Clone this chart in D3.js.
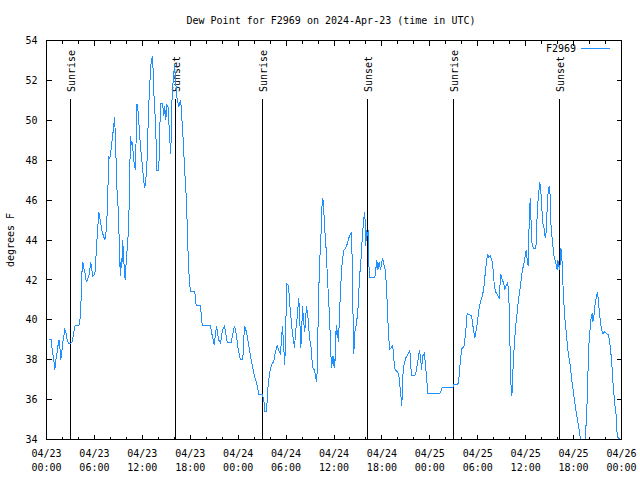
<!DOCTYPE html>
<html><head><meta charset="utf-8">
<script src="https://cdn.jsdelivr.net/npm/d3@7"></script>
<style>
body{margin:0;background:#fff}
svg text{font-family:"DejaVu Sans Mono","Liberation Mono",monospace;font-size:10px;fill:#000}
</style>
</head><body>
<svg id="c" width="640" height="480"></svg>
<script>
const chartTitle = "Dew Point for F2969 on 2024-Apr-23 (time in UTC)";
const seriesName = "F2969";
const yLabel = "degrees F";
const startUTC = Date.UTC(2024, 3, 23, 0, 0);
const spanHours = 72;
const yTicks = [34, 36, 38, 40, 42, 44, 46, 48, 50, 52, 54];
const sunrise = ["2024-04-23T03:03Z", "2024-04-24T03:02Z", "2024-04-25T03:01Z"];
const sunset  = ["2024-04-23T16:11Z", "2024-04-24T16:12Z", "2024-04-25T16:13Z"];

// [hours since 2024-04-23 00:00 UTC, dew point °F]
const day23 = [
[0.29,39.0],[0.59,39.0],[0.63,38.8],[0.75,38.4],[0.88,38.1],[1.04,37.5],[1.21,38.1],[1.34,38.4],[1.47,38.8],[1.59,39.0],
[1.75,38.3],[1.79,38.0],[1.97,38.6],[2.09,39.0],[2.22,39.3],[2.29,39.5],[2.42,39.4],[2.59,39.0],[2.75,38.8],[3.01,38.8],
[3.22,38.9],[3.34,39.2],[3.47,39.5],[3.59,39.7],[4.04,39.7],[4.17,39.9],[4.26,40.4],[4.35,41.2],[4.42,42.3],[4.55,42.9],
[4.67,42.6],[4.85,42.3],[4.97,41.9],[5.13,42.0],[5.35,42.3],[5.55,42.9],[5.67,42.5],[5.80,42.2],[6.05,42.3],[6.14,42.6],
[6.22,43.4],[6.35,44.2],[6.47,44.9],[6.55,45.4],[6.67,45.1],[6.80,44.8],[6.97,44.4],[7.14,44.2],[7.30,44.0],[7.39,44.2],
[7.51,44.6],[7.64,45.7],[7.73,47.2],[7.80,48.2],[7.89,48.1],[8.01,48.2],[8.14,48.75],[8.30,49.3],[8.43,49.7],[8.51,50.15],
[8.64,49.2],[8.77,47.0],[8.85,46.3],[8.93,45.9],[9.05,44.9],[9.14,43.1],[9.27,42.2],[9.35,43.1],[9.43,42.6],[9.55,44.0],
[9.64,43.1],[9.77,42.5],[9.85,42.0],[9.93,42.6],[10.02,43.1],[10.14,43.8],[10.27,44.5],[10.36,46.0],[10.43,47.5],[10.52,49.2],
[10.64,48.75],[10.77,48.9],[10.89,48.1],[11.02,47.7],[11.14,47.5],[11.31,50.8],[11.39,50.8],[11.52,50.2],[11.65,49.3],[11.77,48.75],
[11.90,48.1],[12.02,47.7],[12.15,47.0],[12.31,46.6],[12.43,47.0],[12.52,47.5],[12.61,48.1],[12.77,50.5],[12.90,51.5],[13.02,52.5],
[13.11,52.9],[13.24,53.2],[13.36,52.5],[13.49,50.9],[13.61,50.2],[13.74,48.8],[13.81,47.5],[14.06,47.5],[14.19,49.5],[14.27,50.85],
[14.53,50.85],[14.69,50.2],[14.81,50.7],[14.94,50.0],[15.06,50.8],[15.28,50.6],[15.36,49.5],[15.44,49.0],[15.56,48.3],[15.65,49.8],
[15.74,51.4],[15.94,52.3],[16.03,52.8],[16.19,51.85],[16.37,51.0],[16.57,50.7],[16.78,51.0],[16.87,50.7],[16.99,49.8],[17.12,49.0],
[17.24,48.0],[17.37,47.0],[17.53,46.0],[17.62,44.7],[17.74,43.2],[17.87,42.1],[18.03,41.4],[18.57,41.4],[18.75,40.7],[19.28,40.7],
[19.50,39.7],[20.54,39.7],[20.75,39.2],[21.00,38.75],[21.29,39.7],[21.54,39.0],[21.79,38.85],[22.04,39.5],[22.29,39.7],[22.63,38.85],
[23.13,38.85],[23.29,39.2],[23.54,39.7],[23.79,39.2]
];
const day24 = [
[24.00,38.5],[24.29,38.0],[24.58,38.0],[24.79,39.7],[25.04,39.4],[25.33,38.7],[25.67,37.9],[26.01,37.25],[26.38,36.7],[26.58,36.25],
[27.01,36.25],[27.21,36.0],[27.34,35.4],[27.55,35.4],[27.64,36.0],[27.76,36.75],[27.96,37.4],[28.17,37.75],[28.46,37.9],[28.67,38.4],
[28.89,38.7],[29.14,38.4],[29.30,38.3],[29.55,39.7],[29.71,38.6],[29.84,37.75],[29.93,39.2],[30.09,41.8],[30.30,41.7],[30.47,40.75],
[30.77,39.4],[31.05,38.6],[31.22,39.5],[31.39,40.1],[31.59,41.1],[31.72,40.0],[31.84,38.6],[31.93,39.2],[32.06,40.7],[32.18,40.0],
[32.34,39.4],[32.56,40.7],[32.77,40.0],[32.93,39.1],[33.18,38.5],[33.27,37.85],[33.40,37.5],[33.56,37.5],[33.72,37.1],[33.85,36.9],
[33.93,38.25],[34.06,40.9],[34.18,42.7],[34.40,44.5],[34.47,45.6],[34.60,46.1],[34.72,45.5],[34.85,44.5],[35.02,43.5],[35.19,42.0],
[35.44,40.2],[35.60,38.3],[35.72,37.6],[35.81,38.2],[35.90,37.7],[35.97,38.2],[36.10,37.6],[36.19,38.7],[36.28,39.75],[36.40,39.1],
[36.48,39.5],[36.56,38.9],[36.65,39.8],[36.81,41.5],[37.03,42.9],[37.23,43.5],[37.48,43.6],[37.65,43.8],[37.85,44.1],[38.19,44.4],
[38.28,42.9],[38.40,39.8],[38.48,38.3],[38.60,39.4],[38.82,39.8],[39.03,40.7],[39.19,42.1],[39.36,42.9],[39.57,44.3],[39.73,45.1],
[39.86,45.4],[39.98,43.7],[40.07,44.5],[40.20,44.2],[40.28,44.5],[40.36,42.8],[40.48,42.1],[41.11,42.1],[41.23,42.5],[41.36,43.0],
[41.49,42.5],[41.66,42.9],[41.82,42.5],[42.07,43.1],[42.24,42.8],[42.41,42.5],[42.57,41.75],[42.74,40.0],[42.95,38.5],[43.16,38.6],
[43.36,38.7],[43.49,38.0],[43.66,37.5],[43.91,37.4],[44.11,37.25],[44.36,36.25],[44.49,35.7],[44.62,37.2],[44.79,37.8],[44.99,38.1],
[45.24,38.25],[45.49,38.5],[45.70,37.2],[46.12,37.2],[46.29,37.4],[46.49,37.9],[46.71,38.5],[46.87,38.0],[46.96,37.5],[47.12,38.2],
[47.29,38.3],[47.42,37.9],[47.50,37.5],[47.58,37.2],[47.75,36.3]
];
const day25 = [
[49.25,36.3],[49.55,36.6],[50.88,36.6],[51.00,36.75],[51.50,36.75],[51.63,37.0],[51.71,37.5],[51.84,37.9],[51.93,38.35],[52.05,38.6],
[52.25,38.6],[52.34,38.9],[52.47,39.25],[52.55,39.7],[52.63,40.2],[52.75,40.3],[53.00,40.25],[53.22,40.2],[53.43,39.6],[53.63,39.1],
[53.81,39.5],[53.93,39.8],[54.06,40.2],[54.18,40.6],[54.34,40.9],[54.51,41.1],[54.63,41.3],[54.76,41.6],[54.88,42.1],[55.01,42.6],
[55.22,43.3],[55.35,43.15],[55.56,43.2],[55.81,42.9],[55.93,42.5],[56.06,41.8],[56.22,41.4],[56.47,41.25],[56.69,41.1],[56.76,41.6],
[56.89,42.3],[56.97,42.1],[57.10,42.0],[57.26,41.8],[57.39,41.5],[57.56,41.7],[57.76,41.85],[57.89,41.2],[57.98,39.8],[58.06,38.3],
[58.14,36.9],[58.26,36.2],[58.35,36.6],[58.44,37.9],[58.64,39.1],[58.76,39.7],[58.94,40.4],[59.10,41.0],[59.27,41.5],[59.44,42.0],
[59.60,42.5],[59.77,42.8],[59.89,43.05],[60.07,43.5],[60.19,43.0],[60.32,42.7],[60.39,44.2],[60.48,45.2],[60.57,46.1],[60.64,45.3],
[60.77,43.9],[60.98,43.55],[61.27,43.55],[61.36,44.2],[61.44,45.3],[61.57,46.1],[61.77,46.9],[61.86,46.6],[61.98,46.0],[62.11,44.9],
[62.27,44.7],[62.45,44.1],[62.61,44.5],[62.70,45.8],[62.86,46.6],[63.02,46.7],[63.15,44.9],[63.27,44.25],[63.40,43.75],[63.52,43.25],
[63.74,42.9],[63.95,42.5],[64.02,43.0],[64.15,42.7],[64.27,42.5],[64.40,43.6],[64.52,43.25],[64.70,41.5],[64.83,40.5],[64.95,39.9],
[65.08,39.4],[65.28,38.5],[65.58,37.7],[65.83,36.8],[66.24,35.6],[66.45,35.1],[66.65,34.6],[66.87,34.0],[67.05,33.6],[67.37,33.6],
[67.53,34.5],[67.66,35.5],[67.78,37.1],[67.91,38.7],[68.16,40.0],[68.33,40.35],[68.41,39.9],[68.53,40.1],[68.66,40.7],[68.83,41.1],
[69.00,41.4],[69.16,40.7],[69.28,40.2],[69.50,39.5],[69.66,39.3],[69.87,39.4],[70.12,39.3],[70.37,39.25],[70.62,38.6],[70.84,37.5],
[70.96,36.7],[71.16,35.75],[71.34,35.2],[71.46,34.2],[71.54,34.1],[71.88,34.0]
];

const svg = d3.select("#c");
const L = 46.5, R = 621.5, T = 40.5, B = 439.5;
const t0 = new Date(startUTC), t1 = new Date(startUTC + spanHours * 3600e3);
const x = d3.scaleUtc().domain([t0, t1]).range([L, R]);
const y = d3.scaleLinear().domain([34, 54]).range([B, T]);
const toDate = h => new Date(startUTC + h * 3600e3);
const data = day23.concat(day24, day25).map(([h, v]) => ({t: toDate(h), v}));

svg.append("rect").attr("width", 640).attr("height", 480).attr("fill", "#fff");

svg.append("clipPath").attr("id", "plotclip")
  .append("rect").attr("x", L).attr("y", T).attr("width", R - L).attr("height", B - T);

function styleAxis(g) {
  g.select(".domain").remove();
  g.selectAll("line").attr("stroke", "#000").attr("shape-rendering", "crispEdges");
  g.attr("font-family", null).attr("font-size", null);
}

// y axes
svg.append("g").attr("transform", `translate(${L},0)`)
  .call(d3.axisLeft(y).tickValues(yTicks).tickSize(-5).tickPadding(9).tickFormat(d3.format("d")).offset(0))
  .call(styleAxis)
  .call(g => g.selectAll("text").attr("dy", "0.36em"));
svg.append("g").attr("transform", `translate(${R},0)`)
  .call(d3.axisRight(y).tickValues(yTicks).tickSize(-5).tickFormat("").offset(0))
  .call(styleAxis);

// x axes: minor every 2h, major every 6h
const minorTicks = d3.utcHour.every(2).range(t0, new Date(+t1 + 1)).filter(d => d.getUTCHours() % 6 !== 0);
const majorTicks = d3.utcHour.every(6).range(t0, new Date(+t1 + 1));
[[B, d3.axisBottom], [T, d3.axisTop]].forEach(([yy, ax]) => {
  svg.append("g").attr("transform", `translate(0,${yy})`)
    .call(ax(x).tickValues(minorTicks).tickSize(-3).tickFormat("").offset(0)).call(styleAxis);
  svg.append("g").attr("transform", `translate(0,${yy})`)
    .call(ax(x).tickValues(majorTicks).tickSize(-5).tickFormat("").offset(0)).call(styleAxis);
});

// x tick labels (two lines)
const fmtDate = d3.utcFormat("%m/%d"), fmtTime = d3.utcFormat("%H:%M");
const xl = svg.append("g").selectAll("text").data(majorTicks).join("text")
  .attr("text-anchor", "middle")
  .attr("transform", d => `translate(${x(d)},0)`);
xl.append("tspan").attr("x", 0).attr("y", 457).text(fmtDate);
xl.append("tspan").attr("x", 0).attr("y", 471).text(fmtTime);

// sunrise / sunset markers
const events = sunrise.map(s => ({t: new Date(s), name: "Sunrise"}))
  .concat(sunset.map(s => ({t: new Date(s), name: "Sunset"})));
const ev = svg.append("g").selectAll("g").data(events).join("g");
ev.append("line")
  .attr("x1", d => Math.floor(x(d.t)) + 0.5).attr("x2", d => Math.floor(x(d.t)) + 0.5)
  .attr("y1", 99).attr("y2", B)
  .attr("stroke", "#000").attr("shape-rendering", "crispEdges");
ev.append("text")
  .attr("transform", d => `translate(${Math.floor(x(d.t)) + 4.5},92) rotate(-90)`)
  .attr("text-anchor", "start")
  .text(d => d.name);

// data line
const line = d3.line().x(d => x(d.t)).y(d => y(d.v));
svg.append("path").datum(data)
  .attr("clip-path", "url(#plotclip)")
  .attr("fill", "none").attr("stroke", "#1e90ff").attr("stroke-width", 1)
  .attr("shape-rendering", "crispEdges")
  .attr("d", line);

// border
svg.append("rect").attr("x", L).attr("y", T).attr("width", R - L).attr("height", B - T)
  .attr("fill", "none").attr("stroke", "#000").attr("shape-rendering", "crispEdges");

// legend
svg.append("text").attr("x", 576).attr("y", 52).attr("text-anchor", "end").text(seriesName);
svg.append("line").attr("x1", 581).attr("x2", 610).attr("y1", 48.5).attr("y2", 48.5)
  .attr("stroke", "#1e90ff").attr("stroke-width", 1).attr("shape-rendering", "crispEdges");

// title
svg.append("text").attr("x", 331).attr("y", 24).attr("text-anchor", "middle").text(chartTitle);

// y label
svg.append("text").attr("transform", "translate(14,240) rotate(-90)")
  .attr("text-anchor", "middle").text(yLabel);
</script>
</body></html>
